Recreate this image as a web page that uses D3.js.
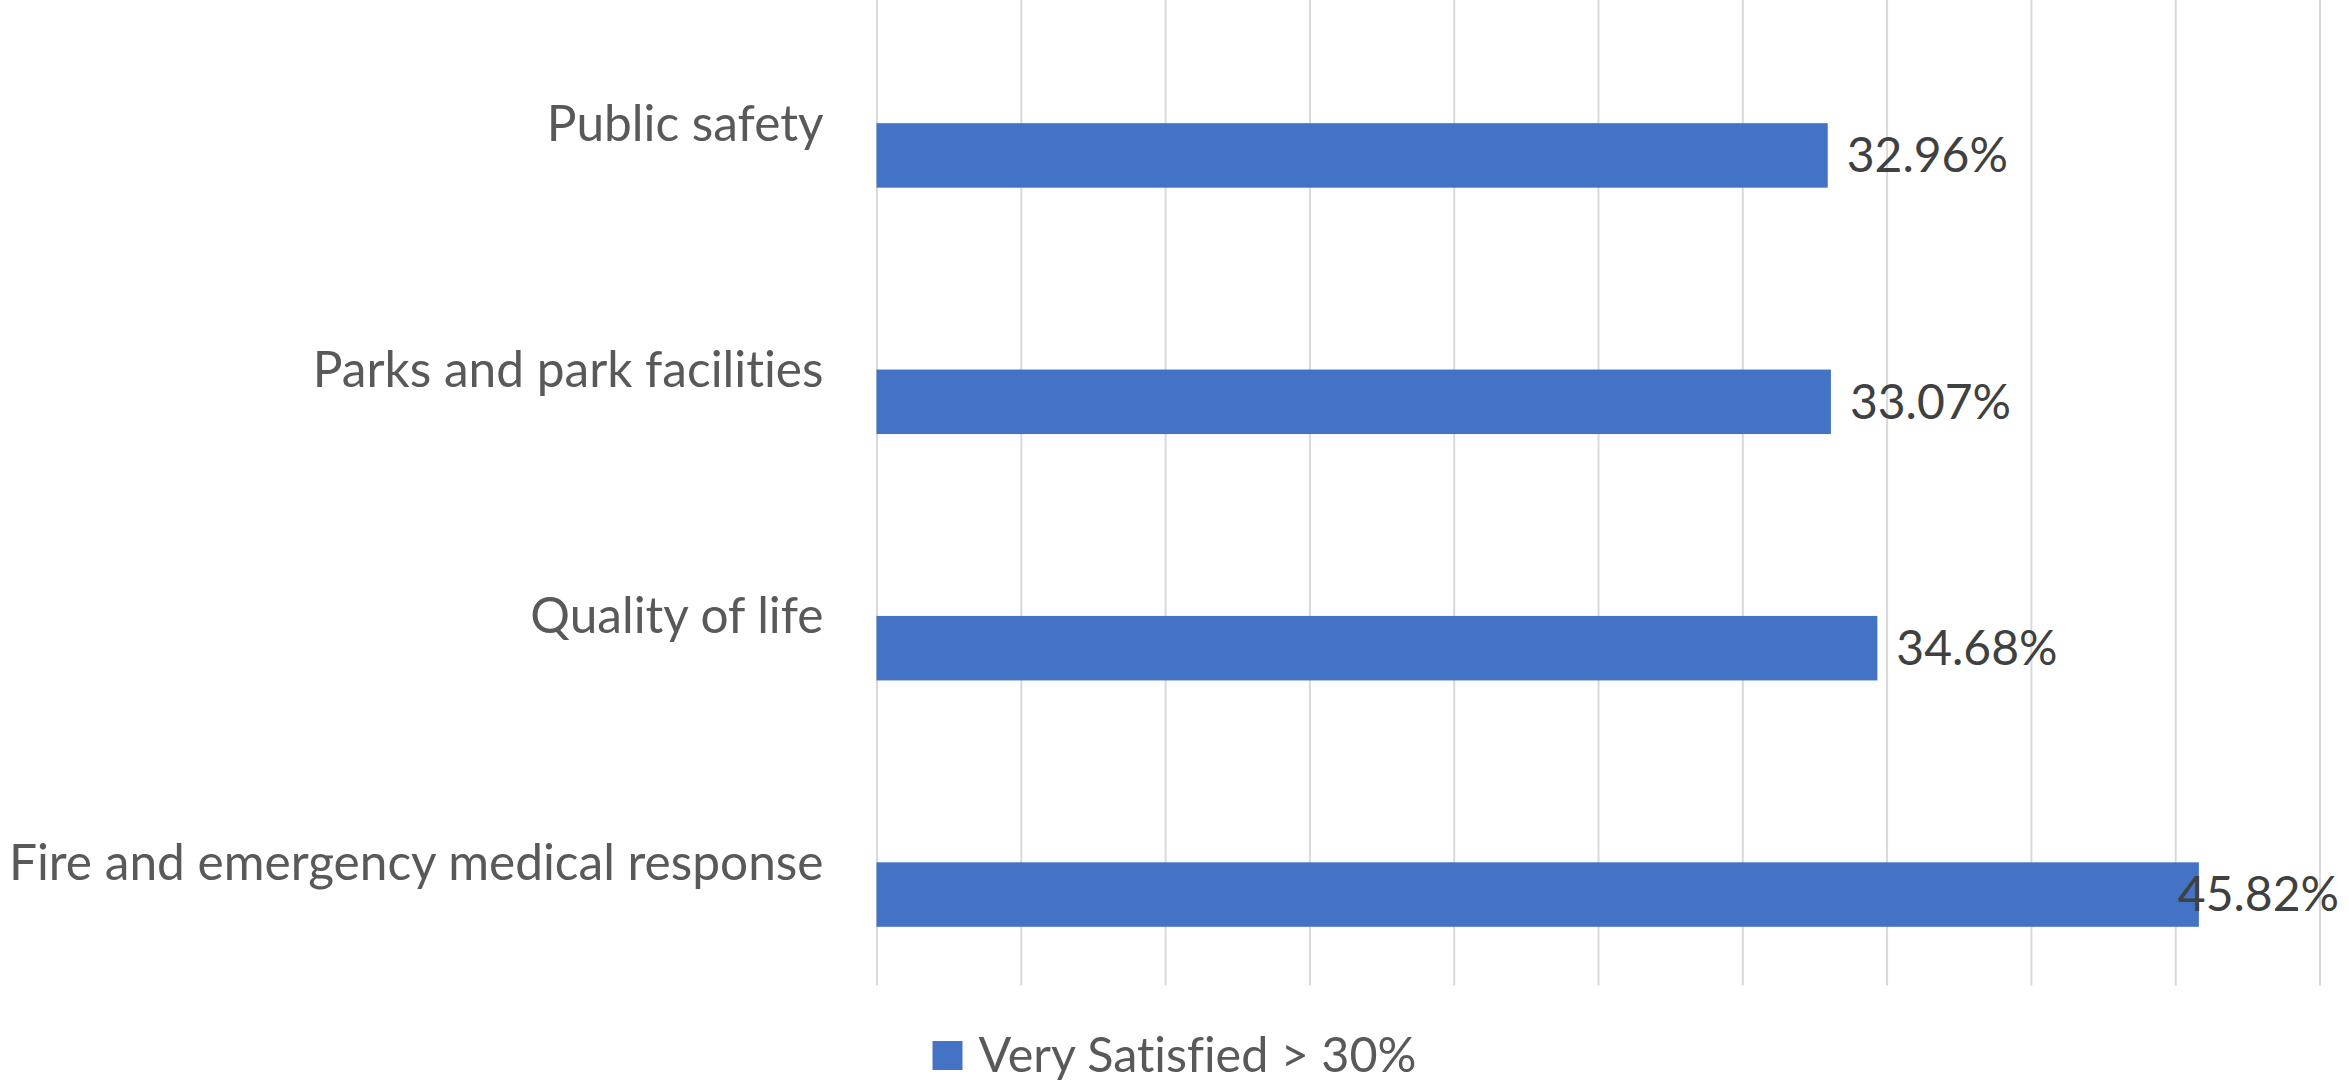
<!DOCTYPE html>
<html>
<head>
<meta charset="utf-8">
<script src="https://cdn.jsdelivr.net/npm/d3@7"></script>
<style>
  html, body { margin: 0; padding: 0; background: #fff; }
  svg text { font-family: Lato, "Open Sans", sans-serif; font-variant-ligatures: none; }
</style>
</head>
<body>
<div id="chart-area"></div>
<script>
// chart data
var categories = ["Public safety", "Parks and park facilities", "Quality of life", "Fire and emergency medical response"];
var values = [32.96, 33.07, 34.68, 45.82];
var seriesName = "Very Satisfied > 30%";
var gridTicks = [0, 5, 10, 15, 20, 25, 30, 35, 40, 45, 50];

var W = 2349, H = 1081;
var margin = {top: 0, right: 29.5, bottom: 95.5, left: 876.5};
var width = W - margin.left - margin.right;
var height = H - margin.top - margin.bottom;

var svg = d3.select("#chart-area")
  .append("svg")
    .attr("width", W)
    .attr("height", H);

var g = svg.append("g")
    .attr("transform", "translate(" + margin.left + ", " + margin.top + ")");

var x = d3.scaleLinear()
    .domain([0, 50])
    .range([0, width]);

var y = d3.scaleBand()
    .domain(categories)
    .range([0, height]);

// two slots per category, the first one is empty (gap width ~182%)
var ySub = d3.scaleBand()
    .domain(["", seriesName])
    .range([0, y.bandwidth()])
    .paddingOuter(0.91);

// vertical gridlines
var grid = g.append("g")
    .attr("class", "grid")
    .attr("transform", "translate(0, " + height + ")")
    .call(d3.axisBottom(x).tickValues(gridTicks).tickSize(-height).tickFormat(""));
grid.select(".domain").remove();
grid.selectAll("line")
    .attr("stroke", "#d9d9d9")
    .attr("stroke-width", 2);

// category labels
g.selectAll("text.cat")
  .data(categories)
  .enter()
  .append("text")
    .attr("class", "cat")
    .attr("x", -53)
    .attr("y", function(d) { return y(d) + y.bandwidth() / 2; })
    .attr("dy", "0.35em")
    .attr("text-anchor", "end")
    .attr("font-size", "49.6px")
    .attr("fill", "#595959")
    .text(function(d) { return d; });

// bars
g.selectAll("rect.bar")
  .data(values)
  .enter()
  .append("rect")
    .attr("class", "bar")
    .attr("x", x(0))
    .attr("y", function(d, i) { return y(categories[i]) + ySub(seriesName); })
    .attr("width", function(d) { return x(d) - x(0); })
    .attr("height", ySub.bandwidth())
    .attr("fill", "#4472c4");

// data labels
var labels = g.selectAll("text.val")
  .data(values)
  .enter()
  .append("text")
    .attr("class", "val")
    .attr("y", function(d, i) { return y(categories[i]) + ySub(seriesName) + ySub.bandwidth() / 2; })
    .attr("dy", "0.35em")
    .attr("font-size", "48px")
    .attr("fill", "#404040")
    .text(function(d) { return d.toFixed(2) + "%"; });

labels.attr("x", function(d) {
    var tw = this.getComputedTextLength();
    var maxX = W - 10 - margin.left - tw;
    return Math.min(x(d) + 19, maxX);
});

// legend
var legend = svg.append("g").attr("class", "legend");
legend.append("rect")
    .attr("width", 30)
    .attr("height", 29)
    .attr("fill", "#4472c4");
var legendText = legend.append("text")
    .attr("x", 46)
    .attr("y", 14.5)
    .attr("dy", "0.35em")
    .attr("font-size", "48.5px")
    .attr("fill", "#595959")
    .text(seriesName);
var lw = 46 + legendText.node().getComputedTextLength();
legend.attr("transform", "translate(" + ((W - lw) / 2) + ", 1041)");
</script>
</body>
</html>
